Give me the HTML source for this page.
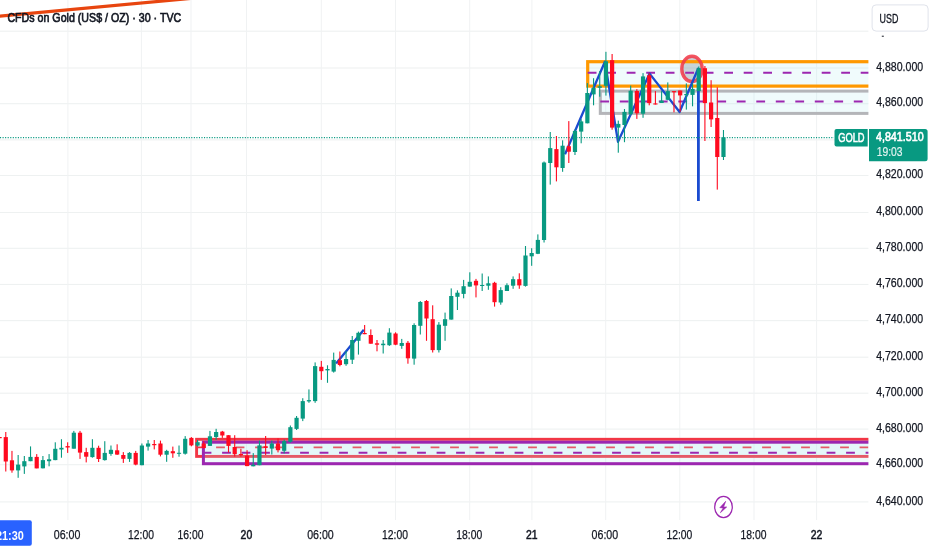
<!DOCTYPE html>
<html><head><meta charset="utf-8"><title>CFDs on Gold (US$ / OZ)</title>
<style>
html,body{margin:0;padding:0;background:#fff;}
body{width:932px;height:550px;overflow:hidden;font-family:"Liberation Sans",Arial,sans-serif;}
svg{display:block}
</style></head><body>
<svg width="932" height="550" viewBox="0 0 932 550" font-family="Liberation Sans, Arial, sans-serif">
<rect width="932" height="550" fill="#ffffff"/>
<!-- grid -->
<rect x="0" y="30.65" width="868.4" height="1.1" fill="#eef1f1"/>
<rect x="0" y="67.45" width="868.4" height="1.1" fill="#eef1f1"/>
<rect x="0" y="103.16" width="868.4" height="1.1" fill="#eef1f1"/>
<rect x="0" y="139.32" width="868.4" height="1.1" fill="#eef1f1"/>
<rect x="0" y="174.95" width="868.4" height="1.1" fill="#eef1f1"/>
<rect x="0" y="211.95" width="868.4" height="1.1" fill="#eef1f1"/>
<rect x="0" y="247.75" width="868.4" height="1.1" fill="#eef1f1"/>
<rect x="0" y="283.93" width="868.4" height="1.1" fill="#eef1f1"/>
<rect x="0" y="320.08" width="868.4" height="1.1" fill="#eef1f1"/>
<rect x="0" y="356.65" width="868.4" height="1.1" fill="#eef1f1"/>
<rect x="0" y="392.65" width="868.4" height="1.1" fill="#eef1f1"/>
<rect x="0" y="428.55" width="868.4" height="1.1" fill="#eef1f1"/>
<rect x="0" y="464.15" width="868.4" height="1.1" fill="#eef1f1"/>
<rect x="0" y="501.35" width="868.4" height="1.1" fill="#eef1f1"/>
<rect x="67.40" y="0" width="1.0" height="520" fill="#f0f2f3"/>
<rect x="140.90" y="0" width="1.0" height="520" fill="#f0f2f3"/>
<rect x="190.50" y="0" width="1.0" height="520" fill="#f0f2f3"/>
<rect x="246.00" y="0" width="1.0" height="520" fill="#f0f2f3"/>
<rect x="320.80" y="0" width="1.0" height="520" fill="#f0f2f3"/>
<rect x="395.00" y="0" width="1.0" height="520" fill="#f0f2f3"/>
<rect x="469.20" y="0" width="1.0" height="520" fill="#f0f2f3"/>
<rect x="531.40" y="0" width="1.0" height="520" fill="#f0f2f3"/>
<rect x="605.20" y="0" width="1.0" height="520" fill="#f0f2f3"/>
<rect x="679.30" y="0" width="1.0" height="520" fill="#f0f2f3"/>
<rect x="753.50" y="0" width="1.0" height="520" fill="#f0f2f3"/>
<rect x="816.10" y="0" width="1.0" height="520" fill="#f0f2f3"/>
<!-- trend line top-left -->
<line x1="-10" y1="17.15" x2="210" y2="-3.4" stroke="#e8450f" stroke-width="3.2"/>
<!-- drawings (clipped to chart pane) -->
<defs><clipPath id="pane"><rect x="0" y="0" width="868.4" height="520"/></clipPath></defs>
<g clip-path="url(#pane)">
  <ellipse cx="692" cy="68.9" rx="10.2" ry="12.6" fill="#787b86" fill-opacity="0.38"/>
  <!-- upper zone : orange -->
  <rect x="587.7" y="61.7" width="400" height="24.4" fill="#b2ebf2" fill-opacity="0.2" stroke="#ff9800" stroke-width="3.2"/>
  <line x1="587.7" y1="72.7" x2="900" y2="72.7" stroke="#9c27b0" stroke-width="2" stroke-dasharray="8.8 10.7"/>
  <!-- upper zone : gray -->
  <rect x="600.3" y="91.1" width="400" height="22.3" fill="#b2ebf2" fill-opacity="0.2" stroke="#b4b5b9" stroke-width="3"/>
  <line x1="600.3" y1="101.4" x2="900" y2="101.4" stroke="#9c27b0" stroke-width="2" stroke-dasharray="8.8 10.7"/>
  <!-- lower zone : red then purple -->
  <rect x="196.6" y="439.3" width="800" height="17.1" fill="#b2ebf2" fill-opacity="0.2" stroke="#f23645" stroke-width="2.9"/>
  <line x1="196.6" y1="447.4" x2="900" y2="447.4" stroke="#f23645" stroke-width="1.8" stroke-dasharray="8.8 10.7"/>
  <rect x="203.4" y="442.2" width="800" height="21.5" fill="#b2ebf2" fill-opacity="0.2" stroke="#9c27b0" stroke-width="3"/>
  <line x1="202.6" y1="452.7" x2="900" y2="452.7" stroke="#9c27b0" stroke-width="2" stroke-dasharray="8.8 10.7"/>
  <!-- ellipse marker -->
  <ellipse cx="692" cy="68.9" rx="10.2" ry="12.6" fill="none" stroke="#f23645" stroke-opacity="0.85" stroke-width="3.4"/>
  <!-- blue swings -->
  <polyline points="565,154.2 604.9,61.8 618,141.8 649.6,73.6 679.6,112 698.4,68" fill="none" stroke="#1a4bd0" stroke-width="2.3" stroke-linejoin="round"/>
  <line x1="698.4" y1="68" x2="698.4" y2="201" stroke="#1a4bd0" stroke-width="2.8"/>
  <line x1="336.1" y1="363.4" x2="363.8" y2="329.7" stroke="#1a4bd0" stroke-width="2.3"/>
  <!-- last price dotted line -->
  <line x1="0" y1="137.6" x2="834" y2="137.6" stroke="#089981" stroke-width="1.3" stroke-dasharray="1.1 1.45"/>
  <!-- candles -->
  <rect x="-0.96" y="437.0" width="1.1" height="1.2" fill="#ff0a1f"/>
<rect x="-2.51" y="437.0" width="4.2" height="1.2" fill="#ff0a1f"/>
<rect x="5.23" y="432.0" width="1.1" height="39.5" fill="#ff0a1f"/>
<rect x="3.68" y="437.1" width="4.2" height="24.4" fill="#ff0a1f"/>
<rect x="11.42" y="450.9" width="1.1" height="21.8" fill="#ff0a1f"/>
<rect x="9.87" y="460.3" width="4.2" height="10.1" fill="#ff0a1f"/>
<rect x="17.60" y="455.0" width="1.1" height="22.8" fill="#089981"/>
<rect x="16.05" y="464.6" width="4.2" height="5.8" fill="#089981"/>
<rect x="23.79" y="456.0" width="1.1" height="17.9" fill="#089981"/>
<rect x="22.24" y="461.2" width="4.2" height="5.2" fill="#089981"/>
<rect x="29.98" y="446.4" width="1.1" height="14.8" fill="#089981"/>
<rect x="28.43" y="456.9" width="4.2" height="4.3" fill="#089981"/>
<rect x="36.17" y="454.1" width="1.1" height="14.2" fill="#ff0a1f"/>
<rect x="34.62" y="456.9" width="4.2" height="11.5" fill="#ff0a1f"/>
<rect x="42.35" y="456.0" width="1.1" height="12.4" fill="#089981"/>
<rect x="40.80" y="460.1" width="4.2" height="8.2" fill="#089981"/>
<rect x="48.54" y="454.1" width="1.1" height="12.2" fill="#089981"/>
<rect x="46.99" y="459.3" width="4.2" height="1.9" fill="#089981"/>
<rect x="54.73" y="442.3" width="1.1" height="17.9" fill="#089981"/>
<rect x="53.18" y="448.8" width="4.2" height="11.3" fill="#089981"/>
<rect x="60.91" y="439.2" width="1.1" height="18.5" fill="#089981"/>
<rect x="59.36" y="447.8" width="4.2" height="1.7" fill="#089981"/>
<rect x="67.10" y="442.3" width="1.1" height="10.6" fill="#ff0a1f"/>
<rect x="65.55" y="446.1" width="4.2" height="1.4" fill="#ff0a1f"/>
<rect x="73.29" y="430.9" width="1.1" height="17.7" fill="#089981"/>
<rect x="71.74" y="432.7" width="4.2" height="16.0" fill="#089981"/>
<rect x="79.47" y="430.9" width="1.1" height="28.0" fill="#ff0a1f"/>
<rect x="77.92" y="432.7" width="4.2" height="19.9" fill="#ff0a1f"/>
<rect x="85.66" y="447.8" width="1.1" height="14.6" fill="#ff0a1f"/>
<rect x="84.11" y="452.1" width="4.2" height="4.6" fill="#ff0a1f"/>
<rect x="91.85" y="439.2" width="1.1" height="18.5" fill="#089981"/>
<rect x="90.30" y="447.8" width="4.2" height="9.3" fill="#089981"/>
<rect x="98.04" y="445.7" width="1.1" height="16.3" fill="#ff0a1f"/>
<rect x="96.49" y="447.8" width="4.2" height="11.2" fill="#ff0a1f"/>
<rect x="104.22" y="441.2" width="1.1" height="19.4" fill="#089981"/>
<rect x="102.67" y="452.9" width="4.2" height="7.2" fill="#089981"/>
<rect x="110.41" y="445.5" width="1.1" height="10.3" fill="#089981"/>
<rect x="108.86" y="449.8" width="4.2" height="4.1" fill="#089981"/>
<rect x="116.60" y="444.3" width="1.1" height="10.6" fill="#ff0a1f"/>
<rect x="115.05" y="450.3" width="4.2" height="4.3" fill="#ff0a1f"/>
<rect x="122.78" y="452.1" width="1.1" height="10.8" fill="#ff0a1f"/>
<rect x="121.23" y="455.0" width="4.2" height="3.8" fill="#ff0a1f"/>
<rect x="128.97" y="452.1" width="1.1" height="9.8" fill="#089981"/>
<rect x="127.42" y="452.9" width="4.2" height="6.0" fill="#089981"/>
<rect x="135.16" y="450.9" width="1.1" height="14.4" fill="#ff0a1f"/>
<rect x="133.61" y="452.9" width="4.2" height="11.7" fill="#ff0a1f"/>
<rect x="141.34" y="443.5" width="1.1" height="21.8" fill="#089981"/>
<rect x="139.79" y="445.5" width="4.2" height="19.7" fill="#089981"/>
<rect x="147.53" y="440.0" width="1.1" height="10.6" fill="#089981"/>
<rect x="145.98" y="443.5" width="4.2" height="3.1" fill="#089981"/>
<rect x="153.72" y="440.0" width="1.1" height="9.4" fill="#ff0a1f"/>
<rect x="152.17" y="444.0" width="4.2" height="1.2" fill="#ff0a1f"/>
<rect x="159.91" y="440.6" width="1.1" height="15.8" fill="#ff0a1f"/>
<rect x="158.36" y="443.5" width="4.2" height="11.2" fill="#ff0a1f"/>
<rect x="166.09" y="449.8" width="1.1" height="12.0" fill="#089981"/>
<rect x="164.54" y="450.9" width="4.2" height="3.8" fill="#089981"/>
<rect x="172.28" y="446.6" width="1.1" height="11.2" fill="#ff0a1f"/>
<rect x="170.73" y="451.2" width="4.2" height="2.1" fill="#ff0a1f"/>
<rect x="178.47" y="445.5" width="1.1" height="11.2" fill="#089981"/>
<rect x="176.92" y="452.8" width="4.2" height="1.0" fill="#089981"/>
<rect x="184.65" y="436.1" width="1.1" height="18.5" fill="#089981"/>
<rect x="183.10" y="438.8" width="4.2" height="14.9" fill="#089981"/>
<rect x="190.84" y="437.1" width="1.1" height="9.2" fill="#ff0a1f"/>
<rect x="189.29" y="437.9" width="4.2" height="7.5" fill="#ff0a1f"/>
<rect x="197.03" y="440.0" width="1.1" height="6.5" fill="#089981"/>
<rect x="195.48" y="442.2" width="4.2" height="3.4" fill="#089981"/>
<rect x="203.21" y="441.1" width="1.1" height="7.5" fill="#ff0a1f"/>
<rect x="201.66" y="443.5" width="4.2" height="4.5" fill="#ff0a1f"/>
<rect x="209.40" y="430.9" width="1.1" height="15.0" fill="#089981"/>
<rect x="207.85" y="436.3" width="4.2" height="9.6" fill="#089981"/>
<rect x="215.59" y="428.8" width="1.1" height="11.2" fill="#089981"/>
<rect x="214.04" y="432.0" width="4.2" height="5.0" fill="#089981"/>
<rect x="221.78" y="430.9" width="1.1" height="7.0" fill="#ff0a1f"/>
<rect x="220.23" y="431.6" width="4.2" height="3.9" fill="#ff0a1f"/>
<rect x="227.96" y="435.2" width="1.1" height="17.2" fill="#ff0a1f"/>
<rect x="226.41" y="435.2" width="4.2" height="10.7" fill="#ff0a1f"/>
<rect x="234.15" y="435.2" width="1.1" height="21.4" fill="#ff0a1f"/>
<rect x="232.60" y="447.0" width="4.2" height="7.2" fill="#ff0a1f"/>
<rect x="240.34" y="448.8" width="1.1" height="7.8" fill="#ff0a1f"/>
<rect x="238.79" y="454.0" width="4.2" height="1.2" fill="#ff0a1f"/>
<rect x="246.52" y="450.2" width="1.1" height="15.9" fill="#ff0a1f"/>
<rect x="244.97" y="455.6" width="4.2" height="10.5" fill="#ff0a1f"/>
<rect x="252.71" y="453.1" width="1.1" height="13.2" fill="#089981"/>
<rect x="251.16" y="464.7" width="4.2" height="1.6" fill="#089981"/>
<rect x="258.90" y="440.6" width="1.1" height="24.6" fill="#089981"/>
<rect x="257.35" y="445.4" width="4.2" height="19.8" fill="#089981"/>
<rect x="265.08" y="436.0" width="1.1" height="19.0" fill="#ff0a1f"/>
<rect x="263.53" y="446.2" width="4.2" height="1.8" fill="#ff0a1f"/>
<rect x="271.27" y="440.6" width="1.1" height="13.9" fill="#089981"/>
<rect x="269.72" y="443.5" width="4.2" height="5.1" fill="#089981"/>
<rect x="277.46" y="438.4" width="1.1" height="14.0" fill="#ff0a1f"/>
<rect x="275.91" y="443.5" width="4.2" height="6.7" fill="#ff0a1f"/>
<rect x="283.64" y="439.5" width="1.1" height="13.9" fill="#089981"/>
<rect x="282.09" y="441.1" width="4.2" height="9.7" fill="#089981"/>
<rect x="289.83" y="425.5" width="1.1" height="17.1" fill="#089981"/>
<rect x="288.28" y="427.2" width="4.2" height="14.6" fill="#089981"/>
<rect x="296.02" y="416.0" width="1.1" height="14.0" fill="#089981"/>
<rect x="294.47" y="417.8" width="4.2" height="11.1" fill="#089981"/>
<rect x="302.21" y="398.2" width="1.1" height="22.9" fill="#089981"/>
<rect x="300.66" y="401.1" width="4.2" height="17.5" fill="#089981"/>
<rect x="308.39" y="389.4" width="1.1" height="13.4" fill="#089981"/>
<rect x="306.84" y="400.1" width="4.2" height="1.3" fill="#089981"/>
<rect x="314.58" y="362.4" width="1.1" height="40.4" fill="#089981"/>
<rect x="313.03" y="366.1" width="4.2" height="35.0" fill="#089981"/>
<rect x="320.77" y="360.9" width="1.1" height="19.0" fill="#ff0a1f"/>
<rect x="319.22" y="366.8" width="4.2" height="4.4" fill="#ff0a1f"/>
<rect x="326.95" y="365.3" width="1.1" height="17.5" fill="#089981"/>
<rect x="325.40" y="369.0" width="4.2" height="1.4" fill="#089981"/>
<rect x="333.14" y="352.6" width="1.1" height="20.0" fill="#089981"/>
<rect x="331.59" y="359.9" width="4.2" height="11.7" fill="#089981"/>
<rect x="339.33" y="351.5" width="1.1" height="14.8" fill="#ff0a1f"/>
<rect x="337.78" y="360.2" width="4.2" height="4.8" fill="#ff0a1f"/>
<rect x="345.51" y="351.0" width="1.1" height="14.8" fill="#089981"/>
<rect x="343.96" y="359.0" width="4.2" height="5.2" fill="#089981"/>
<rect x="351.70" y="336.0" width="1.1" height="28.0" fill="#089981"/>
<rect x="350.15" y="340.0" width="4.2" height="19.7" fill="#089981"/>
<rect x="357.89" y="331.6" width="1.1" height="23.0" fill="#089981"/>
<rect x="356.34" y="332.8" width="4.2" height="8.0" fill="#089981"/>
<rect x="364.08" y="325.0" width="1.1" height="9.2" fill="#ff0a1f"/>
<rect x="362.53" y="333.0" width="4.2" height="1.2" fill="#ff0a1f"/>
<rect x="370.26" y="329.4" width="1.1" height="14.3" fill="#ff0a1f"/>
<rect x="368.71" y="335.0" width="4.2" height="8.7" fill="#ff0a1f"/>
<rect x="376.45" y="340.0" width="1.1" height="11.3" fill="#ff0a1f"/>
<rect x="374.90" y="343.3" width="4.2" height="1.4" fill="#ff0a1f"/>
<rect x="382.64" y="340.0" width="1.1" height="13.5" fill="#089981"/>
<rect x="381.09" y="343.7" width="4.2" height="1.5" fill="#089981"/>
<rect x="388.82" y="328.2" width="1.1" height="17.7" fill="#089981"/>
<rect x="387.27" y="332.6" width="4.2" height="12.6" fill="#089981"/>
<rect x="395.01" y="332.3" width="1.1" height="12.9" fill="#ff0a1f"/>
<rect x="393.46" y="333.5" width="4.2" height="11.2" fill="#ff0a1f"/>
<rect x="401.20" y="338.9" width="1.1" height="9.9" fill="#089981"/>
<rect x="399.65" y="343.0" width="4.2" height="2.9" fill="#089981"/>
<rect x="407.38" y="341.0" width="1.1" height="22.7" fill="#ff0a1f"/>
<rect x="405.83" y="342.8" width="4.2" height="15.5" fill="#ff0a1f"/>
<rect x="413.57" y="323.3" width="1.1" height="41.4" fill="#089981"/>
<rect x="412.02" y="325.0" width="4.2" height="33.6" fill="#089981"/>
<rect x="419.76" y="301.0" width="1.1" height="33.5" fill="#089981"/>
<rect x="418.21" y="302.0" width="4.2" height="23.8" fill="#089981"/>
<rect x="425.95" y="300.0" width="1.1" height="40.8" fill="#ff0a1f"/>
<rect x="424.40" y="301.0" width="4.2" height="17.5" fill="#ff0a1f"/>
<rect x="432.13" y="305.3" width="1.1" height="47.2" fill="#ff0a1f"/>
<rect x="430.58" y="319.2" width="4.2" height="30.9" fill="#ff0a1f"/>
<rect x="438.32" y="322.1" width="1.1" height="30.4" fill="#089981"/>
<rect x="436.77" y="324.7" width="4.2" height="25.4" fill="#089981"/>
<rect x="444.51" y="312.6" width="1.1" height="28.2" fill="#089981"/>
<rect x="442.96" y="319.2" width="4.2" height="6.6" fill="#089981"/>
<rect x="450.69" y="288.4" width="1.1" height="31.2" fill="#089981"/>
<rect x="449.14" y="296.0" width="4.2" height="23.6" fill="#089981"/>
<rect x="456.88" y="290.3" width="1.1" height="19.7" fill="#089981"/>
<rect x="455.33" y="292.7" width="4.2" height="4.1" fill="#089981"/>
<rect x="463.07" y="279.9" width="1.1" height="18.4" fill="#089981"/>
<rect x="461.52" y="286.2" width="4.2" height="7.7" fill="#089981"/>
<rect x="469.25" y="272.3" width="1.1" height="14.3" fill="#089981"/>
<rect x="467.70" y="281.8" width="4.2" height="4.8" fill="#089981"/>
<rect x="475.44" y="278.9" width="1.1" height="18.5" fill="#ff0a1f"/>
<rect x="473.89" y="280.8" width="4.2" height="4.6" fill="#ff0a1f"/>
<rect x="481.63" y="273.5" width="1.1" height="17.5" fill="#089981"/>
<rect x="480.08" y="285.0" width="4.2" height="1.0" fill="#089981"/>
<rect x="487.82" y="276.4" width="1.1" height="13.4" fill="#089981"/>
<rect x="486.27" y="283.3" width="4.2" height="2.4" fill="#089981"/>
<rect x="494.00" y="281.8" width="1.1" height="24.8" fill="#ff0a1f"/>
<rect x="492.45" y="282.8" width="4.2" height="19.4" fill="#ff0a1f"/>
<rect x="500.19" y="287.2" width="1.1" height="17.5" fill="#089981"/>
<rect x="498.64" y="290.1" width="4.2" height="12.4" fill="#089981"/>
<rect x="506.38" y="283.3" width="1.1" height="7.7" fill="#089981"/>
<rect x="504.83" y="285.2" width="4.2" height="5.8" fill="#089981"/>
<rect x="512.56" y="276.4" width="1.1" height="12.4" fill="#089981"/>
<rect x="511.01" y="279.2" width="4.2" height="6.5" fill="#089981"/>
<rect x="518.75" y="273.3" width="1.1" height="15.5" fill="#ff0a1f"/>
<rect x="517.20" y="279.2" width="4.2" height="6.2" fill="#ff0a1f"/>
<rect x="524.94" y="246.0" width="1.1" height="40.6" fill="#089981"/>
<rect x="523.39" y="255.5" width="4.2" height="30.4" fill="#089981"/>
<rect x="531.12" y="248.2" width="1.1" height="17.6" fill="#089981"/>
<rect x="529.57" y="253.0" width="4.2" height="3.3" fill="#089981"/>
<rect x="537.31" y="234.4" width="1.1" height="19.7" fill="#089981"/>
<rect x="535.76" y="239.9" width="4.2" height="13.9" fill="#089981"/>
<rect x="543.50" y="161.5" width="1.1" height="81.0" fill="#089981"/>
<rect x="541.95" y="162.5" width="4.2" height="77.5" fill="#089981"/>
<rect x="549.69" y="132.0" width="1.1" height="52.6" fill="#089981"/>
<rect x="548.14" y="148.1" width="4.2" height="14.9" fill="#089981"/>
<rect x="555.87" y="136.0" width="1.1" height="45.4" fill="#ff0a1f"/>
<rect x="554.32" y="149.1" width="4.2" height="18.2" fill="#ff0a1f"/>
<rect x="562.06" y="140.3" width="1.1" height="31.5" fill="#089981"/>
<rect x="560.51" y="145.7" width="4.2" height="22.3" fill="#089981"/>
<rect x="568.25" y="121.1" width="1.1" height="41.9" fill="#ff0a1f"/>
<rect x="566.70" y="146.2" width="4.2" height="5.5" fill="#ff0a1f"/>
<rect x="574.43" y="129.4" width="1.1" height="25.6" fill="#089981"/>
<rect x="572.88" y="130.9" width="4.2" height="21.1" fill="#089981"/>
<rect x="580.62" y="119.2" width="1.1" height="24.1" fill="#089981"/>
<rect x="579.07" y="121.4" width="4.2" height="10.2" fill="#089981"/>
<rect x="586.81" y="83.1" width="1.1" height="40.2" fill="#089981"/>
<rect x="585.26" y="93.0" width="4.2" height="30.3" fill="#089981"/>
<rect x="593.00" y="78.2" width="1.1" height="27.1" fill="#089981"/>
<rect x="591.44" y="88.0" width="4.2" height="6.4" fill="#089981"/>
<rect x="599.18" y="71.1" width="1.1" height="25.6" fill="#089981"/>
<rect x="597.63" y="86.3" width="4.2" height="1.5" fill="#089981"/>
<rect x="605.37" y="51.8" width="1.1" height="43.8" fill="#089981"/>
<rect x="603.82" y="61.3" width="4.2" height="24.5" fill="#089981"/>
<rect x="611.56" y="54.0" width="1.1" height="75.7" fill="#ff0a1f"/>
<rect x="610.01" y="60.2" width="4.2" height="67.4" fill="#ff0a1f"/>
<rect x="617.74" y="120.6" width="1.1" height="32.1" fill="#089981"/>
<rect x="616.19" y="123.9" width="4.2" height="3.7" fill="#089981"/>
<rect x="623.93" y="109.0" width="1.1" height="33.2" fill="#089981"/>
<rect x="622.38" y="111.9" width="4.2" height="13.1" fill="#089981"/>
<rect x="630.12" y="85.6" width="1.1" height="29.9" fill="#089981"/>
<rect x="628.57" y="90.7" width="4.2" height="23.4" fill="#089981"/>
<rect x="636.30" y="89.1" width="1.1" height="29.8" fill="#ff0a1f"/>
<rect x="634.75" y="91.0" width="4.2" height="22.3" fill="#ff0a1f"/>
<rect x="642.49" y="73.1" width="1.1" height="44.7" fill="#089981"/>
<rect x="640.94" y="76.4" width="4.2" height="37.3" fill="#089981"/>
<rect x="648.68" y="73.1" width="1.1" height="32.2" fill="#ff0a1f"/>
<rect x="647.13" y="75.3" width="4.2" height="27.8" fill="#ff0a1f"/>
<rect x="654.87" y="91.1" width="1.1" height="13.4" fill="#ff0a1f"/>
<rect x="653.31" y="103.4" width="4.2" height="1.1" fill="#ff0a1f"/>
<rect x="661.05" y="91.1" width="1.1" height="11.9" fill="#089981"/>
<rect x="659.50" y="100.6" width="4.2" height="2.4" fill="#089981"/>
<rect x="667.24" y="82.4" width="1.1" height="17.9" fill="#089981"/>
<rect x="665.69" y="91.1" width="4.2" height="8.7" fill="#089981"/>
<rect x="673.43" y="91.1" width="1.1" height="21.2" fill="#ff0a1f"/>
<rect x="671.88" y="91.1" width="4.2" height="1.2" fill="#ff0a1f"/>
<rect x="679.61" y="90.5" width="1.1" height="21.3" fill="#ff0a1f"/>
<rect x="678.06" y="90.5" width="4.2" height="4.9" fill="#ff0a1f"/>
<rect x="685.80" y="83.4" width="1.1" height="26.2" fill="#089981"/>
<rect x="684.25" y="94.0" width="4.2" height="1.2" fill="#089981"/>
<rect x="691.99" y="83.4" width="1.1" height="22.9" fill="#089981"/>
<rect x="690.44" y="88.9" width="4.2" height="6.0" fill="#089981"/>
<rect x="698.17" y="66.5" width="1.1" height="24.6" fill="#089981"/>
<rect x="696.62" y="68.2" width="4.2" height="22.9" fill="#089981"/>
<rect x="704.36" y="66.0" width="1.1" height="75.0" fill="#ff0a1f"/>
<rect x="702.81" y="68.2" width="4.2" height="34.9" fill="#ff0a1f"/>
<rect x="710.55" y="80.2" width="1.1" height="46.8" fill="#ff0a1f"/>
<rect x="709.00" y="102.5" width="4.2" height="16.9" fill="#ff0a1f"/>
<rect x="716.74" y="87.3" width="1.1" height="102.3" fill="#ff0a1f"/>
<rect x="715.18" y="118.0" width="4.2" height="39.0" fill="#ff0a1f"/>
<rect x="722.92" y="130.0" width="1.1" height="30.0" fill="#089981"/>
<rect x="721.37" y="137.6" width="4.2" height="19.4" fill="#089981"/>
</g>
<!-- lightning icon -->
<ellipse cx="723.5" cy="507" rx="10.2" ry="12" fill="#ffffff"/>
<ellipse cx="723.5" cy="507" rx="8.8" ry="10.6" fill="#ffffff" stroke="#9c27b0" stroke-width="1.25"/>
<polygon points="725.7,501.3 719.8,507.7 723.2,507.9 720.4,512.7 726.7,507 723.6,506.9" fill="#9c27b0" stroke="#9c27b0" stroke-width="0.6" stroke-linejoin="round"/>
<!-- title -->
<text x="7.4" y="21.5" font-size="12.2" font-weight="normal" fill="#131722" stroke="#131722" stroke-width="0.65" textLength="173.8" lengthAdjust="spacingAndGlyphs" >CFDs on Gold (US$ / OZ) · 30 · TVC</text>
<!-- price axis -->
<text x="876.2" y="70.7" font-size="12" font-weight="normal" fill="#131722" stroke="#131722" stroke-width="0.25" textLength="47.0" lengthAdjust="spacingAndGlyphs" >4,880.000</text>
<text x="876.2" y="106.4" font-size="12" font-weight="normal" fill="#131722" stroke="#131722" stroke-width="0.25" textLength="47.0" lengthAdjust="spacingAndGlyphs" >4,860.000</text>
<text x="876.2" y="178.2" font-size="12" font-weight="normal" fill="#131722" stroke="#131722" stroke-width="0.25" textLength="47.0" lengthAdjust="spacingAndGlyphs" >4,820.000</text>
<text x="876.2" y="215.2" font-size="12" font-weight="normal" fill="#131722" stroke="#131722" stroke-width="0.25" textLength="47.0" lengthAdjust="spacingAndGlyphs" >4,800.000</text>
<text x="876.2" y="251.0" font-size="12" font-weight="normal" fill="#131722" stroke="#131722" stroke-width="0.25" textLength="47.0" lengthAdjust="spacingAndGlyphs" >4,780.000</text>
<text x="876.2" y="287.2" font-size="12" font-weight="normal" fill="#131722" stroke="#131722" stroke-width="0.25" textLength="47.0" lengthAdjust="spacingAndGlyphs" >4,760.000</text>
<text x="876.2" y="323.3" font-size="12" font-weight="normal" fill="#131722" stroke="#131722" stroke-width="0.25" textLength="47.0" lengthAdjust="spacingAndGlyphs" >4,740.000</text>
<text x="876.2" y="359.9" font-size="12" font-weight="normal" fill="#131722" stroke="#131722" stroke-width="0.25" textLength="47.0" lengthAdjust="spacingAndGlyphs" >4,720.000</text>
<text x="876.2" y="395.9" font-size="12" font-weight="normal" fill="#131722" stroke="#131722" stroke-width="0.25" textLength="47.0" lengthAdjust="spacingAndGlyphs" >4,700.000</text>
<text x="876.2" y="431.8" font-size="12" font-weight="normal" fill="#131722" stroke="#131722" stroke-width="0.25" textLength="47.0" lengthAdjust="spacingAndGlyphs" >4,680.000</text>
<text x="876.2" y="467.4" font-size="12" font-weight="normal" fill="#131722" stroke="#131722" stroke-width="0.25" textLength="47.0" lengthAdjust="spacingAndGlyphs" >4,660.000</text>
<text x="876.2" y="504.6" font-size="12" font-weight="normal" fill="#131722" stroke="#131722" stroke-width="0.25" textLength="47.0" lengthAdjust="spacingAndGlyphs" >4,640.000</text>
<text x="53.8" y="539.2" font-size="12.3" font-weight="normal" fill="#131722" stroke="#131722" stroke-width="0.25" textLength="26.6" lengthAdjust="spacingAndGlyphs" >06:00</text>
<text x="128.0" y="539.2" font-size="12.3" font-weight="normal" fill="#131722" stroke="#131722" stroke-width="0.25" textLength="25.9" lengthAdjust="spacingAndGlyphs" >12:00</text>
<text x="177.6" y="539.2" font-size="12.3" font-weight="normal" fill="#131722" stroke="#131722" stroke-width="0.25" textLength="25.9" lengthAdjust="spacingAndGlyphs" >16:00</text>
<text x="240.6" y="539.2" font-size="12.3" font-weight="normal" fill="#131722" stroke="#131722" stroke-width="0.55" textLength="11.6" lengthAdjust="spacingAndGlyphs" >20</text>
<text x="307.2" y="539.2" font-size="12.3" font-weight="normal" fill="#131722" stroke="#131722" stroke-width="0.25" textLength="26.6" lengthAdjust="spacingAndGlyphs" >06:00</text>
<text x="382.1" y="539.2" font-size="12.3" font-weight="normal" fill="#131722" stroke="#131722" stroke-width="0.25" textLength="25.9" lengthAdjust="spacingAndGlyphs" >12:00</text>
<text x="456.3" y="539.2" font-size="12.3" font-weight="normal" fill="#131722" stroke="#131722" stroke-width="0.25" textLength="25.9" lengthAdjust="spacingAndGlyphs" >18:00</text>
<text x="526.0" y="539.2" font-size="12.3" font-weight="normal" fill="#131722" stroke="#131722" stroke-width="0.55" textLength="11.6" lengthAdjust="spacingAndGlyphs" >21</text>
<text x="591.6" y="539.2" font-size="12.3" font-weight="normal" fill="#131722" stroke="#131722" stroke-width="0.25" textLength="26.6" lengthAdjust="spacingAndGlyphs" >06:00</text>
<text x="666.4" y="539.2" font-size="12.3" font-weight="normal" fill="#131722" stroke="#131722" stroke-width="0.25" textLength="25.9" lengthAdjust="spacingAndGlyphs" >12:00</text>
<text x="740.6" y="539.2" font-size="12.3" font-weight="normal" fill="#131722" stroke="#131722" stroke-width="0.25" textLength="25.9" lengthAdjust="spacingAndGlyphs" >18:00</text>
<text x="810.7" y="539.2" font-size="12.3" font-weight="normal" fill="#131722" stroke="#131722" stroke-width="0.55" textLength="11.6" lengthAdjust="spacingAndGlyphs" >22</text>
<rect x="881.8" y="35.6" width="2" height="1.4" fill="#131722" opacity="0.7"/>
<rect x="872.1" y="4.9" width="56" height="26.2" rx="4" ry="4" fill="#ffffff" stroke="#e0e3eb" stroke-width="1"/>
<text x="879.6" y="22.8" font-size="12" font-weight="normal" fill="#131722" stroke="#131722" stroke-width="0.3" textLength="18.8" lengthAdjust="spacingAndGlyphs" >USD</text>
<!-- GOLD tag + price -->
<path d="M836.5 128.9 H867.7 V146.4 H836.5 a2 2 0 0 1 -2 -2 V130.9 a2 2 0 0 1 2 -2 Z" fill="#089981"/>
<text x="838.2" y="142.3" font-size="12" font-weight="normal" fill="#ffffff" stroke="#ffffff" stroke-width="0.55" textLength="26.4" lengthAdjust="spacingAndGlyphs" >GOLD</text>
<path d="M869 128.9 H925.1 a2.5 2.5 0 0 1 2.5 2.5 V158.7 a2.5 2.5 0 0 1 -2.5 2.5 H869 Z" fill="#089981"/>
<text x="876.0" y="141.3" font-size="12" font-weight="normal" fill="#ffffff" stroke="#ffffff" stroke-width="0.6" textLength="47.6" lengthAdjust="spacingAndGlyphs" >4,841.510</text>
<text x="876.7" y="155.8" font-size="12" font-weight="normal" fill="#ffffff" stroke="#ffffff" stroke-width="0.2" textLength="25.8" lengthAdjust="spacingAndGlyphs" opacity="0.88">19:03</text>
<!-- time label -->
<path d="M0 520.2 H29.8 a2 2 0 0 1 2 2 V543.7 a2 2 0 0 1 -2 2 H0 Z" fill="#2962ff"/>
<text x="-4.0" y="540.2" font-size="13.2" font-weight="bold" fill="#ffffff"  textLength="27.8" lengthAdjust="spacingAndGlyphs" >21:30</text>
</svg>
</body></html>
